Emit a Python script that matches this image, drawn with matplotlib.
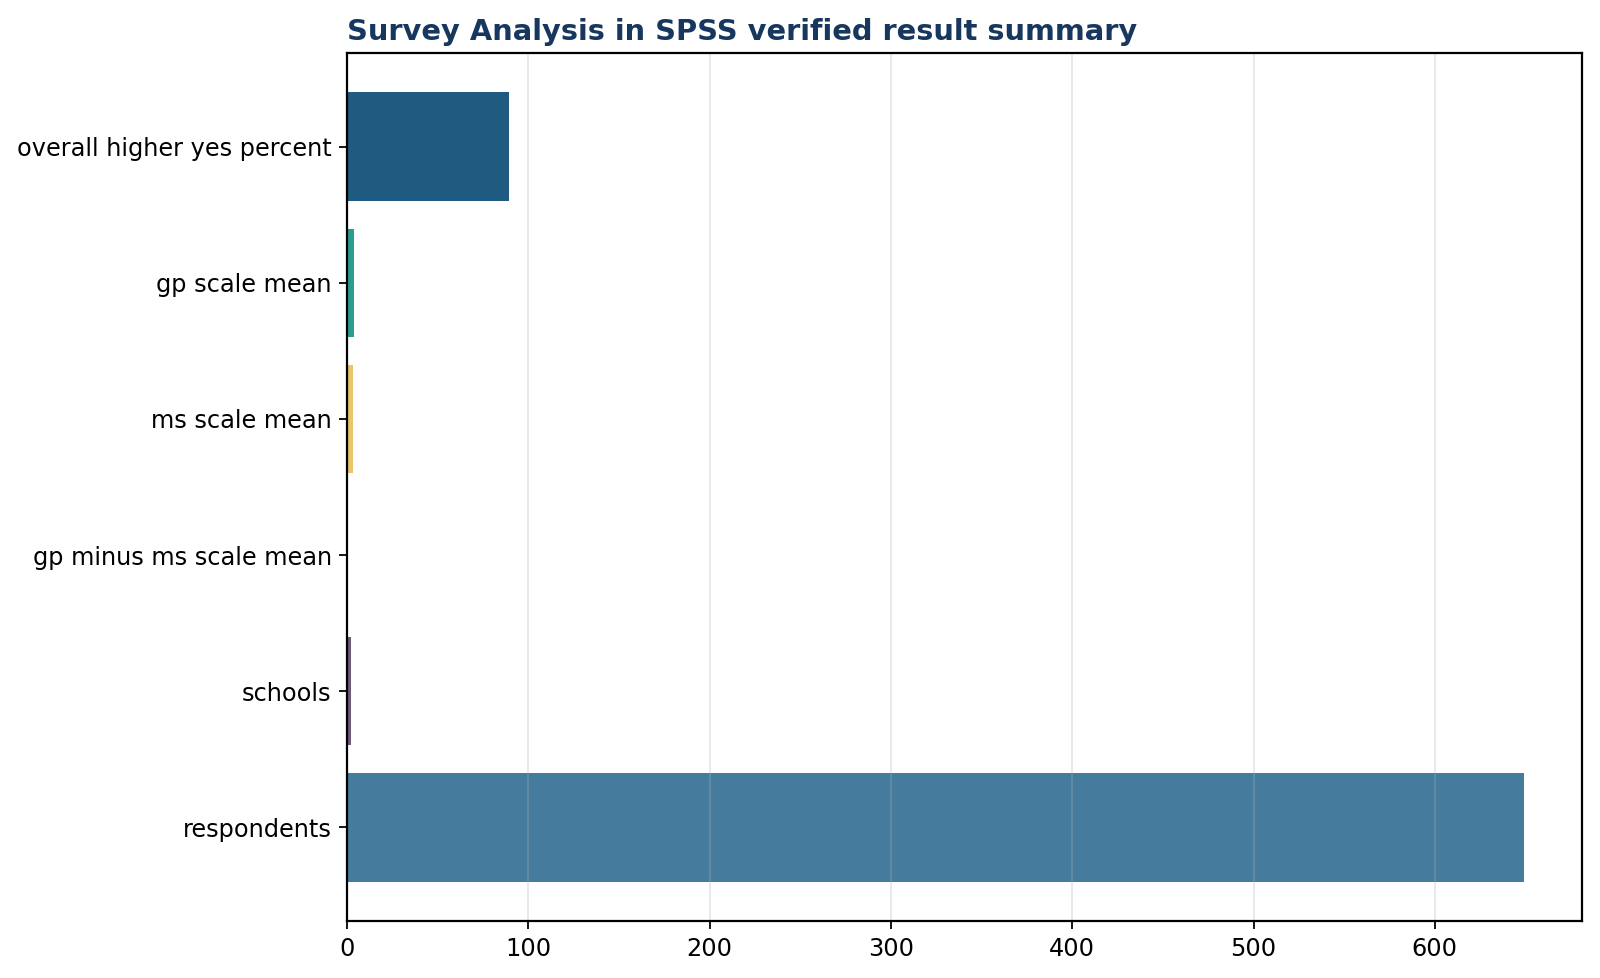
import matplotlib
matplotlib.use("Agg")
import matplotlib.pyplot as plt

categories = ["respondents", "schools", "gp minus ms scale mean",
              "ms scale mean", "gp scale mean", "overall higher yes percent"]
values = [649, 2, 0.1, 3.4, 3.5, 89.1]
colors = ["#457b9d", "#6d597a", "#e76f51", "#e9c46a", "#2a9d8f", "#1f5a80"]

fig, ax = plt.subplots(figsize=(10, 6.1125), dpi=160)
fig.subplots_adjust(left=0.217, right=0.989, bottom=0.0583, top=0.9458)

ax.barh(categories, values, height=0.8, color=colors, zorder=1)
ax.grid(axis="x", color="#b0b0b0", alpha=0.3, linewidth=0.8, zorder=2)
ax.set_axisbelow(False)
ax.tick_params(axis="both", labelsize=10.8)
for s in ax.spines.values():
    s.set_linewidth(1.0)
    s.set_zorder(3)

ax.set_title("Survey Analysis in SPSS verified result summary", loc="left",
             fontsize=13, fontweight="bold", color="#17375e")

fig.savefig("out.png", dpi=160)
